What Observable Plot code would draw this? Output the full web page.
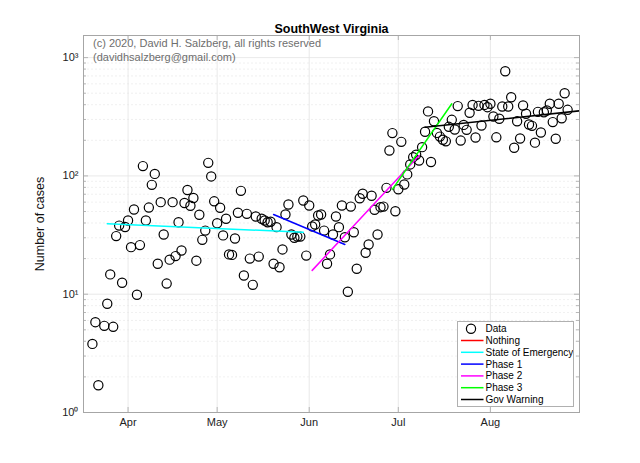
<!DOCTYPE html>
<html><head><meta charset="utf-8">
<script src="https://cdn.jsdelivr.net/npm/d3@7"></script>
<script src="https://cdn.jsdelivr.net/npm/@observablehq/plot@0.6"></script>
<style>
body{margin:0;background:#fff;}
#wrap{position:relative;width:640px;height:463px;overflow:hidden;}
#legend{position:absolute;left:457px;top:321px;width:117px;height:86px;border:1px solid #b0b0b0;background:#fff;box-sizing:border-box;font-family:"Liberation Sans",Arial,sans-serif;font-size:10px;color:#000;}
#legend svg{display:block;}
</style></head><body><div id="wrap"></div>
<script>
// ---- data ----
const title = "SouthWest Virginia";
const yLabel = "Number of cases";
const copyrightLines = ["(c) 2020, David H. Salzberg, all rights reserved", "(davidhsalzberg@gmail.com)"];
const startDate = "2020-03-20";
const cases = [
  // Mar 20 - Mar 31
  3.8, 5.8, 1.7, null, 5.4, 8.3, 14.7, 5.3, 31, 38, 12.5, 37,
  // Apr 1 - Apr 30
  42, 25, 52, 9.9, 26, 121, 42, 54, 84, 104, 18.1, 60, 32, 12.3, 19.6,
  60, 21, 40.6, 23.4, 59, 76, 56, 65, 19.2, 47, 28.8, 34.5, 129, 99, 61,
  // May 1 - May 31
  39.8, 53.8, 31.4, 43.4, 21.7, 21.5, 29.6, 48.8, 74.8, 14.4, 47.8, 20, 12, 45.4, 20.8,
  43.4, 42, 40.6, 41, 18.1, 36.9, 16.9, 23.9, 47.2, 57.3, 32, 30, 30.7, 30.7, 62, 21.2,
  // Jun 1 - Jun 30
  56.2, 37.4, 38.8, 46.3, 47.2, 34.5, 18.1, 21.7, 32, 45.4, 36.9, 56.2, 30.3, 10.5, 55,
  33.4, 16.4, 64.8, 70.6, 22.4, 26.3, 67.9, 51.7, 32, 54.4, 55, 79.3, 164, 230, 50.3,
  // Jul 1 - Jul 31
  77.2, 194, 84.6, 103, 125, 144, 151, 135, 175, 236, 351, 131, 290, 231, 215,
  202, 196, 260, 298, 247, 389, 199, 270, 245, 342, 398, 211, 391, 267, 398, 381,
  // Aug 1 - Aug 27
  407, 318, 212, 304, 386, 767, 386, 462, 173, 290, 207, 394, 335, 272, 265,
  191, 348, 233, 345, 357, 407, 285, 206, 407, 307, 500, 362
];
const xDomain = ["2020-03-17", "2020-08-31"];
const monthTicks = ["2020-04-01", "2020-05-01", "2020-06-01", "2020-07-01", "2020-08-01"];
const yDomain = [1, 1538];
const yTicks = [1, 10, 100, 1000];
const yTickLabels = ["10\u2070", "10\u00B9", "10\u00B2", "10\u00B3"];
const minorMultipliers = [2, 3, 4, 5, 6, 7, 8, 9];

const fitNames = ["Nothing", "State of Emergency", "Phase 1", "Phase 2", "Phase 3", "Gov Warning"];
const fitColors = ["#ff0000", "#00ffff", "#0000ff", "#ff00ff", "#00ff00", "#000000"];
const fitStart = [null, "2020-03-25", "2020-05-20", "2020-06-02", "2020-06-29", "2020-07-10"];
const fitEnd = [null, "2020-05-30", "2020-06-13", "2020-07-08", "2020-07-19", "2020-08-31"];
const fitStartVal = [null, 39.4, 47.2, 15.9, 77, 258];
const fitEndVal = [null, 33.4, 26.3, 149, 407, 355];

// ---- build ----
const t0 = new Date(startDate);
const rows = cases.map((v, i) => ({date: d3.utcDay.offset(t0, i), value: v})).filter(d => d.value != null && d.value > 0);
const months = monthTicks.map(s => new Date(s));
const minor = [];
for (const dec of [1, 10, 100, 1000]) for (const m of minorMultipliers) { const v = dec * m; if (v < yDomain[1]) minor.push(v); }
const fits = fitNames.map((n, i) => ({name: n, color: fitColors[i],
  pts: fitStart[i] ? [{date: new Date(fitStart[i]), value: fitStartVal[i]}, {date: new Date(fitEnd[i]), value: fitEndVal[i]}] : []}));

const W = 640, H = 463, mL = 83, mR = 61, mT = 35, mB = 51;
const iw = W - mL - mR, ih = H - mT - mB;
const gridC = "#e3e3e3", axisC = "#a6a6a6";
const font = "Liberation Sans, Arial, sans-serif";

const chart = Plot.plot({
  width: W, height: H,
  marginLeft: mL, marginRight: mR, marginTop: mT, marginBottom: mB,
  style: {fontFamily: font, fontSize: "11px", background: "#fff", overflow: "visible"},
  x: {type: "utc", domain: xDomain.map(s => new Date(s)), label: null},
  y: {type: "log", domain: yDomain, label: null},
  marks: [
    Plot.ruleY(minor, {stroke: "#ececec", strokeDasharray: "2,2", strokeWidth: 0.8}),
    Plot.ruleY(yTicks, {stroke: gridC, strokeWidth: 0.8}),
    Plot.ruleX(months, {stroke: gridC, strokeWidth: 0.8}),
    // inward ticks (MATLAB style)
    Plot.tickY(yTicks, {y: d => d, insetRight: iw - 5, stroke: axisC, strokeWidth: 0.8}),
    Plot.tickY(yTicks, {y: d => d, insetLeft: iw - 5, stroke: axisC, strokeWidth: 0.8}),
    Plot.tickY(minor, {y: d => d, insetRight: iw - 3, stroke: axisC, strokeWidth: 0.8}),
    Plot.tickY(minor, {y: d => d, insetLeft: iw - 3, stroke: axisC, strokeWidth: 0.8}),
    Plot.tickX(months, {x: d => d, insetTop: ih - 5, stroke: axisC, strokeWidth: 0.8}),
    Plot.tickX(months, {x: d => d, insetBottom: ih - 5, stroke: axisC, strokeWidth: 0.8}),
    Plot.frame({stroke: axisC, strokeWidth: 1}),
    Plot.axisY(yTicks, {tickSize: 0, tickPadding: 5, tickFormat: d => yTickLabels[yTicks.indexOf(d)], fontSize: 11, fill: "#222"}),
    Plot.axisX(months, {tickSize: 0, tickPadding: 6, tickFormat: d3.utcFormat("%b"), fontSize: 11, fill: "#222"}),
    Plot.text([yLabel], {frameAnchor: "left", dx: -44, rotate: -90, textAnchor: "middle", fontSize: 12.5, fill: "#111"}),
    Plot.text([title], {frameAnchor: "top", dy: -11, textAnchor: "middle", fontWeight: "bold", fontSize: 12.5, fill: "#000"}),
    Plot.text([copyrightLines[0]], {frameAnchor: "top-left", dx: 9.5, dy: 8, textAnchor: "start", lineAnchor: "middle", fontSize: 11, fill: "#6e6e6e"}),
    Plot.text([copyrightLines[1]], {frameAnchor: "top-left", dx: 9.5, dy: 21.5, textAnchor: "start", lineAnchor: "middle", fontSize: 11, fill: "#6e6e6e"}),
    Plot.dot(rows, {x: "date", y: "value", r: 4.6, stroke: "#000", strokeWidth: 1.2, fill: "none"}),
    ...fits.filter(f => f.pts.length).map(f => Plot.line(f.pts, {x: "date", y: "value", stroke: f.color, strokeWidth: 1.5, clip: true}))
  ]
});

const wrap = document.getElementById("wrap");
wrap.appendChild(chart);

// legend
const leg = document.createElement("div");
leg.id = "legend";
wrap.appendChild(leg);
const entries = [{name: "Data", type: "dot"}].concat(fits.map(f => ({name: f.name, type: "line", color: f.color})));
const lsvg = d3.select(leg).append("svg").attr("width", 115).attr("height", 84);
const rowH = 11.8, y0 = 6.7;
entries.forEach((e, i) => {
  const g = lsvg.append("g").attr("transform", `translate(0,${y0 + i * rowH})`);
  if (e.type === "dot") g.append("circle").attr("cx", 13).attr("cy", 0).attr("r", 4.6).attr("fill", "none").attr("stroke", "#000").attr("stroke-width", 1.2);
  else g.append("line").attr("x1", 3).attr("x2", 25.5).attr("y1", 0).attr("y2", 0).attr("stroke", e.color).attr("stroke-width", 1.5);
  g.append("text").attr("x", 27.5).attr("y", 0).attr("dy", "0.35em").attr("font-family", font).attr("font-size", 10).text(e.name);
});
</script></body></html>
